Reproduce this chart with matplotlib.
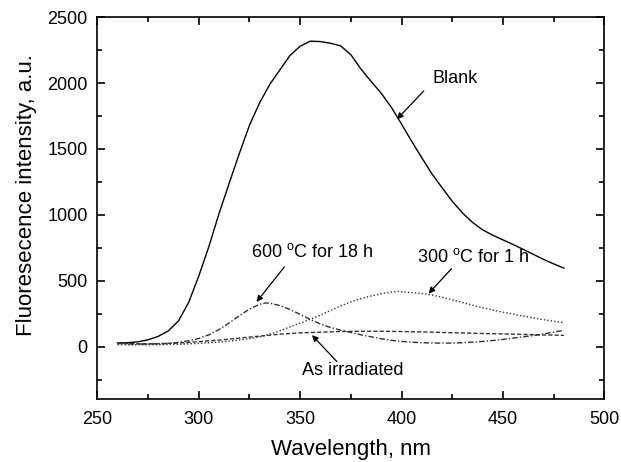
import matplotlib
matplotlib.use("Agg")
import matplotlib.pyplot as plt
from matplotlib.ticker import MultipleLocator

plt.rcParams['font.family'] = ['Liberation Sans', 'DejaVu Sans']
plt.rcParams['mathtext.fontset'] = 'custom'
plt.rcParams['mathtext.rm'] = 'Liberation Sans'

# Blank (solid)
wl_blank = [260, 265, 270, 275, 280, 285, 290, 295, 300, 305, 310, 315, 320, 325, 330, 335,
            340, 345, 350, 355, 360, 365, 370, 375, 380, 385, 390, 395, 400, 405, 410, 415,
            420, 425, 430, 435, 440, 445, 450, 455, 460, 465, 470, 475, 480]
blank = [28, 30, 37, 52, 78, 120, 195, 335, 535, 760, 1010, 1240, 1465, 1680, 1850, 1990,
         2100, 2210, 2280, 2318, 2315, 2302, 2282, 2215, 2105, 2012, 1922, 1815, 1688, 1557, 1432, 1310,
         1205, 1102, 1015, 942, 886, 845, 810, 775, 738, 700, 662, 628, 596]

# 600 C for 18 h (dash-dot)
wl_600 = [260, 265, 270, 275, 280, 285, 290, 295, 300, 305, 310, 315, 320, 325, 330, 333, 335,
          340, 345, 350, 355, 360, 365, 370, 375, 380, 385, 390, 395, 400, 405, 410, 415, 420,
          425, 430, 435, 440, 445, 450, 455, 460, 465, 470, 475, 480]
t600 = [25, 22, 20, 20, 22, 25, 32, 45, 62, 90, 130, 180, 235, 285, 322, 332, 330,
        312, 282, 245, 207, 172, 145, 125, 108, 90, 75, 60, 48, 40, 34, 30, 28, 27,
        28, 30, 34, 40, 47, 55, 65, 75, 85, 97, 110, 125]

# 300 C for 1 h (dotted)
wl_300 = [260, 270, 280, 290, 300, 310, 320, 325, 330, 335, 340, 345, 350, 355, 360, 365, 370,
          375, 380, 385, 390, 395, 398, 400, 405, 410, 415, 420, 425, 430, 435, 440, 445, 450,
          455, 460, 465, 470, 475, 480]
t300 = [15, 14, 15, 18, 25, 35, 50, 60, 75, 95, 120, 150, 180, 207, 240, 275, 310,
        340, 365, 385, 402, 414, 420, 417, 410, 404, 392, 375, 355, 335, 315, 295, 278, 262,
        247, 232, 218, 205, 193, 182]

# As irradiated (dashed)
wl_irr = [260, 270, 280, 290, 300, 310, 320, 330, 340, 350, 360, 370, 380, 390, 400, 410,
          420, 430, 440, 450, 460, 470, 480]
irr = [25, 22, 22, 28, 38, 50, 65, 80, 95, 105, 110, 115, 117, 117, 115, 112,
       108, 104, 100, 97, 93, 89, 86]

x_ticks = [250, 300, 350, 400, 450, 500]
y_ticks = [0, 500, 1000, 1500, 2000, 2500]

fig = plt.figure(figsize=(6.21, 4.62), dpi=100)
ax = fig.add_axes([0.1567, 0.1355, 0.8167, 0.8273])

ax.plot(wl_blank, blank, color='black', lw=1.0, ls='-')
ax.plot(wl_600, t600, color='#333333', lw=1.0, ls=(0, (4, 1.5, 1, 1.5)))
ax.plot(wl_300, t300, color='#333333', lw=1.0, ls=(0, (1, 1.5)))
ax.plot(wl_irr, irr, color='#333333', lw=1.0, ls=(0, (3, 1.5)))

ax.set_xlim(250, 500)
ax.set_ylim(-400, 2500)
ax.set_xticks(x_ticks)
ax.set_yticks(y_ticks)
ax.xaxis.set_minor_locator(MultipleLocator(25))
ax.yaxis.set_minor_locator(MultipleLocator(250))
ax.tick_params(which='both', direction='in', top=True, right=True, labelsize=13, width=1.2)
ax.tick_params(which='major', length=6)
ax.tick_params(which='minor', length=3.5)
ax.tick_params(axis='x', which='major', pad=8)
ax.tick_params(axis='y', which='major', pad=7)
for s in ax.spines.values():
    s.set_linewidth(1.2)

ax.set_xlabel('Wavelength, nm', fontsize=16, labelpad=8)
ax.set_ylabel('Fluoresecence intensity, a.u.', fontsize=16)
ax.yaxis.set_label_coords(-0.118, 0.535)

arrow = dict(arrowstyle='-|>', color='black', lw=0.9, mutation_scale=9, shrinkA=0, shrinkB=0)
ax.text(426.5, 2035, 'Blank', fontsize=13, ha='center', va='center')
ax.annotate('', xy=(397.7, 1726), xytext=(410.9, 1940), arrowprops=arrow)
ax.text(355.8, 720, r'600 $^{\rm o}$C for 18 h', fontsize=13, ha='center', va='center')
ax.annotate('', xy=(328.5, 340), xytext=(342.2, 605), arrowprops=arrow)
ax.text(435.5, 680, r'300 $^{\rm o}$C for 1 h', fontsize=13, ha='center', va='center')
ax.annotate('', xy=(413.3, 403), xytext=(424.6, 592), arrowprops=arrow)
ax.text(375.9, -181, 'As irradiated', fontsize=13, ha='center', va='center')
ax.annotate('', xy=(355.8, 88), xytext=(368.1, -113), arrowprops=arrow)

fig.savefig('out.png', dpi=100)
